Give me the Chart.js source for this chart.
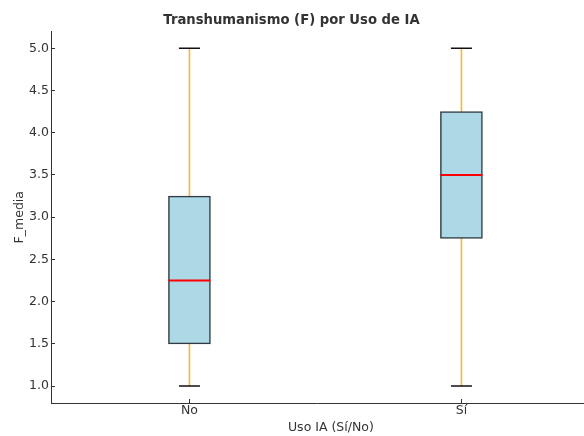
<!DOCTYPE html>
<html>
<head>
<meta charset="utf-8">
<script src="https://cdn.jsdelivr.net/npm/chart.js@4.4.1/dist/chart.umd.min.js"></script>
<style>
  html, body { margin: 0; padding: 0; background: #fff; overflow: hidden; }
  #chart { display: block; }
</style>
</head>
<body>
<canvas id="chart" width="584" height="436"></canvas>
<script>
    // ==========================================
    // DADOS
    // ==========================================
    const categories = ['No', 'Sí'];
    const positions = [1, 2];
    const whiskerLow = [1.0, 1.0];
    const q1 = [1.5, 2.75];
    const medians = [2.25, 3.5];
    const q3 = [3.25, 4.25];
    const whiskerHigh = [5.0, 5.0];
    const yTicks = [1.0, 1.5, 2.0, 2.5, 3.0, 3.5, 4.0, 4.5, 5.0];
    // ==========================================

    const textColor = '#333333';
    const font = { family: '"DejaVu Sans", sans-serif', size: 12.5 };

    const whiskerData = positions.map((x, i) => ({ x: x, y: [whiskerLow[i], whiskerHigh[i]] }));
    const boxData = positions.map((x, i) => ({ x: x, y: [q1[i], q3[i]] }));
    const medianData = positions.map((x, i) => ({ x: x, y: medians[i] }));
    const capData = [];
    positions.forEach((x, i) => {
        capData.push({ x: x, y: whiskerLow[i] });
        capData.push({ x: x, y: whiskerHigh[i] });
    });

    const ctx = document.getElementById('chart').getContext('2d');
    new Chart(ctx, {
        type: 'bar',
        data: {
            datasets: [
                {
                    // bigodes (linha fina atrás da caixa)
                    data: whiskerData,
                    backgroundColor: '#f4b942',
                    barThickness: 1,
                    grouped: false,
                    order: 4
                },
                {
                    // caixas Q1-Q3
                    data: boxData,
                    backgroundColor: '#add8e6',
                    borderColor: '#2f3b40',
                    borderWidth: 1.5,
                    borderSkipped: false,
                    barThickness: 42,
                    grouped: false,
                    order: 3
                },
                {
                    // medianas
                    type: 'scatter',
                    data: medianData,
                    pointStyle: 'line',
                    radius: 21,
                    borderColor: '#ff0000',
                    borderWidth: 2,
                    order: 1
                },
                {
                    // extremos
                    type: 'scatter',
                    data: capData,
                    pointStyle: 'line',
                    radius: 10.5,
                    borderColor: '#111111',
                    borderWidth: 1.5,
                    order: 2
                }
            ]
        },
        options: {
            responsive: false,
            animation: false,
            devicePixelRatio: 1,
            layout: { autoPadding: false, padding: { left: 0, right: 1, top: 0, bottom: 0 } },
            plugins: {
                legend: { display: false },
                tooltip: { enabled: false },
                title: {
                    display: true,
                    text: 'Transhumanismo (F) por Uso de IA',
                    color: textColor,
                    font: { family: font.family, size: 13.2, weight: 'bold' },
                    padding: { top: 12.5, bottom: 3.1 }
                }
            },
            scales: {
                x: {
                    type: 'linear',
                    min: 0.491,
                    max: 2.447,
                    offset: false,
                    afterBuildTicks: s => { s.ticks = positions.map(v => ({ value: v })); },
                    afterFit: s => { s.height = 33; s.paddingLeft = 0; s.paddingRight = 0; },
                    ticks: {
                        color: textColor,
                        font: font,
                        padding: 4,
                        callback: (v) => categories[positions.indexOf(v)]
                    },
                    grid: { drawOnChartArea: false, offset: false, tickLength: -4, color: textColor },
                    border: { display: true, color: textColor, width: 1 },
                    title: {
                        display: true,
                        // espaços à esquerda: o eixo original continua além da borda
                        text: '\u00a0'.repeat(7) + 'Uso IA (Sí/No)',
                        color: textColor,
                        font: font,
                        padding: { top: 0, bottom: 0.5 }
                    }
                },
                y: {
                    type: 'linear',
                    min: 0.8,
                    max: 5.2,
                    afterBuildTicks: s => { s.ticks = yTicks.map(v => ({ value: v })); },
                    afterFit: s => { s.width = 51; },
                    ticks: {
                        color: textColor,
                        font: font,
                        padding: 6,
                        callback: v => v.toFixed(1)
                    },
                    grid: { drawOnChartArea: false, tickLength: -4, color: textColor },
                    border: { display: true, color: textColor, width: 1 },
                    title: {
                        display: true,
                        text: 'F_media',
                        color: textColor,
                        font: font,
                        padding: { top: 12, bottom: 0 }
                    }
                }
            }
        }
    });
</script>
</body>
</html>
